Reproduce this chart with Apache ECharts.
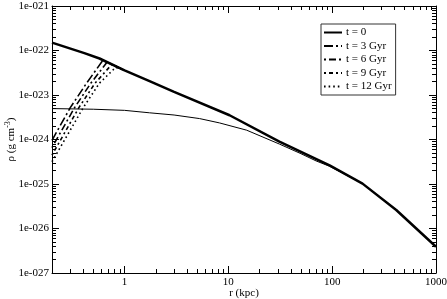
<!DOCTYPE html>
<html>
<head>
<meta charset="utf-8">
<script src="https://cdn.jsdelivr.net/npm/echarts/dist/echarts.min.js"></script>
<style>html,body{margin:0;padding:0;background:#fff}#c{width:447px;height:299px}</style>
</head>
<body>
<div id="c"></div>
<script>
// ---- data (r in kpc, rho in g cm^-3) ----
const rT0 = [0.2, 0.41, 0.574, 1.0, 1.74, 3, 10.27, 31, 94.4, 196, 414, 1000];
const rhoT0 = [1.50e-22, 8.75e-23, 6.61e-23, 3.58e-23, 2.04e-23, 1.17e-23, 3.51e-24, 9.0e-25, 2.63e-25, 1.02e-25, 2.60e-26, 3.89e-27];

const rThin = [0.2, 0.5, 1.0, 1.74, 3, 5.28, 8.2, 15, 31, 50, 70, 94.4, 196, 414, 1000];
const rhoThin = [4.95e-24, 4.79e-24, 4.52e-24, 3.98e-24, 3.55e-24, 2.95e-24, 2.36e-24, 1.62e-24, 7.9e-25, 4.8e-25, 3.3e-25, 2.5e-25, 1.02e-25, 2.6e-26, 3.89e-27];

const rT3 = [0.2, 0.30, 0.43, 0.618, 0.8, 1.0];
const rhoT3 = [9.6e-25, 5.2e-24, 1.84e-23, 6.0e-23, 4.57e-23, 3.58e-23];

const rT6 = [0.2, 0.33, 0.473, 0.68, 0.85, 1.0];
const rhoT6 = [6.6e-25, 5.2e-24, 1.84e-23, 5.5e-23, 4.27e-23, 3.58e-23];

const rT9 = [0.2, 0.363, 0.52, 0.75, 0.9, 1.0];
const rhoT9 = [4.47e-25, 5.2e-24, 1.84e-23, 4.8e-23, 3.98e-23, 3.58e-23];

const rT12 = [0.2, 0.40, 0.572, 0.82, 1.0];
const rhoT12 = [3.16e-25, 5.2e-24, 1.84e-23, 4.17e-23, 3.58e-23];

const seriesNames = ['t = 0', 't = 3 Gyr', 't = 6 Gyr', 't = 9 Gyr', 't = 12 Gyr'];

// ---- ticks ----
const xMajor = [1, 10, 100, 1000];
const yExp = [-27, -26, -25, -24, -23, -22, -21];

// The y axis works in units of 1e-27 g cm^-3 (tiny floats break the log scale rounding)
const UNIT_EXP = -27;
const toUnit = v => v * Math.pow(10, -UNIT_EXP);
const yMajor = yExp.map(e => Math.pow(10, e - UNIT_EXP));
const xMinor = [];
[-1, 0, 1, 2].forEach(d => { for (let k = 2; k <= 9; k++) { const v = Number(k + 'e' + d); if (v > 0.2 && v < 1000) xMinor.push(v); } });
const yMinor = [];
yExp.slice(0, -1).forEach(d => { for (let k = 2; k <= 9; k++) yMinor.push(k * Math.pow(10, d - UNIT_EXP)); });

const FONT = 'Liberation Serif';
const black = '#000';
const pairs = (xs, ys) => xs.map((x, i) => [x, toUnit(ys[i])]);

function xa(grid, pos, ticks, len, labels, line) {
  return {
    type: 'log', logBase: 10, gridIndex: grid, position: pos, min: 0.2, max: 1000,
    axisLine: { show: line, onZero: false, lineStyle: { color: black, width: 1 } },
    axisTick: { show: true, inside: true, length: len, customValues: ticks, lineStyle: { color: black, width: 1 } },
    axisLabel: labels ? { show: true, customValues: xMajor, formatter: v => String(Math.round(v)), fontFamily: FONT, fontSize: 11, color: black, margin: 4, hideOverlap: false } : { show: false },
    splitLine: { show: false }, minorTick: { show: false },
    name: labels ? 'r (kpc)' : '', nameLocation: 'middle', nameGap: 15, nameMoveOverlap: false,
    nameTextStyle: { fontFamily: FONT, fontSize: 11, color: black }
  };
}
function ya(grid, pos, ticks, len, labels, line) {
  return {
    type: 'log', logBase: 10, gridIndex: grid, position: pos, min: 1, max: 1e6,
    axisLine: { show: line, onZero: false, lineStyle: { color: black, width: 1 } },
    axisTick: { show: true, inside: true, length: len, customValues: ticks, lineStyle: { color: black, width: 1 } },
    axisLabel: labels ? { show: true, customValues: yMajor, formatter: v => '1e-0' + (-(Math.round(Math.log10(v)) + UNIT_EXP)), fontFamily: FONT, fontSize: 11, color: black, margin: 3, hideOverlap: false } : { show: false },
    splitLine: { show: false }, minorTick: { show: false },
    name: labels ? 'ρ (g cm{sup|-3})' : '', nameLocation: 'middle', nameGap: 34, nameRotate: 90, nameMoveOverlap: false,
    nameTextStyle: { fontFamily: FONT, fontSize: 11, color: black, rich: { sup: { fontFamily: FONT, fontSize: 8, verticalAlign: 'top', padding: [0, 0, 6, 0] } } }
  };
}

const g = { left: 52, right: 11, top: 6, bottom: 26, outerBoundsMode: 'none', containLabel: false };
function ln(name, xs, ys, width, type) {
  return {
    name: name, type: 'line', xAxisIndex: 0, yAxisIndex: 0, data: pairs(xs, ys),
    symbol: 'none', smooth: false, z: width > 2 ? 5 : 3,
    itemStyle: { color: 'rgba(0,0,0,0)', borderWidth: 0 },
    lineStyle: { color: black, width: width, type: type }
  };
}

const option = {
  animation: false,
  backgroundColor: '#fff',
  grid: [Object.assign({}, g), Object.assign({}, g)],
  xAxis: [xa(0, 'bottom', xMajor, 7, true, true), xa(0, 'top', xMajor, 7, false, true), xa(1, 'bottom', xMinor, 4, false, false), xa(1, 'top', xMinor, 4, false, false)],
  yAxis: [ya(0, 'left', yMajor, 7, true, true), ya(0, 'right', yMajor, 7, false, true), ya(1, 'left', yMinor, 4, false, false), ya(1, 'right', yMinor, 4, false, false)],
  legend: {
    data: seriesNames, orient: 'vertical', left: 321, top: 24,
    itemWidth: 18, itemHeight: 10, itemGap: 2.5,
    padding: [3, 4, 3, 2], borderColor: '#333', borderWidth: 1,
    itemStyle: { color: 'rgba(0,0,0,0)', borderWidth: 0 },
    textStyle: { fontFamily: FONT, fontSize: 11, color: black, padding: [0, 0, 0, -1] }
  },
  series: [
    ln('thin', rThin, rhoThin, 1, 'solid'),
    ln(seriesNames[0], rT0, rhoT0, 2.5, 'solid'),
    ln(seriesNames[1], rT3, rhoT3, 1.6, [9, 3, 2, 3]),
    ln(seriesNames[2], rT6, rhoT6, 1.6, [2, 3, 7, 3]),
    ln(seriesNames[3], rT9, rhoT9, 1.6, [2, 3, 4, 3]),
    ln(seriesNames[4], rT12, rhoT12, 1.6, [1.6, 3])
  ]
};
const chart = echarts.init(document.getElementById('c'), null, { renderer: 'canvas' });
chart.setOption(option);
</script>
</body>
</html>
